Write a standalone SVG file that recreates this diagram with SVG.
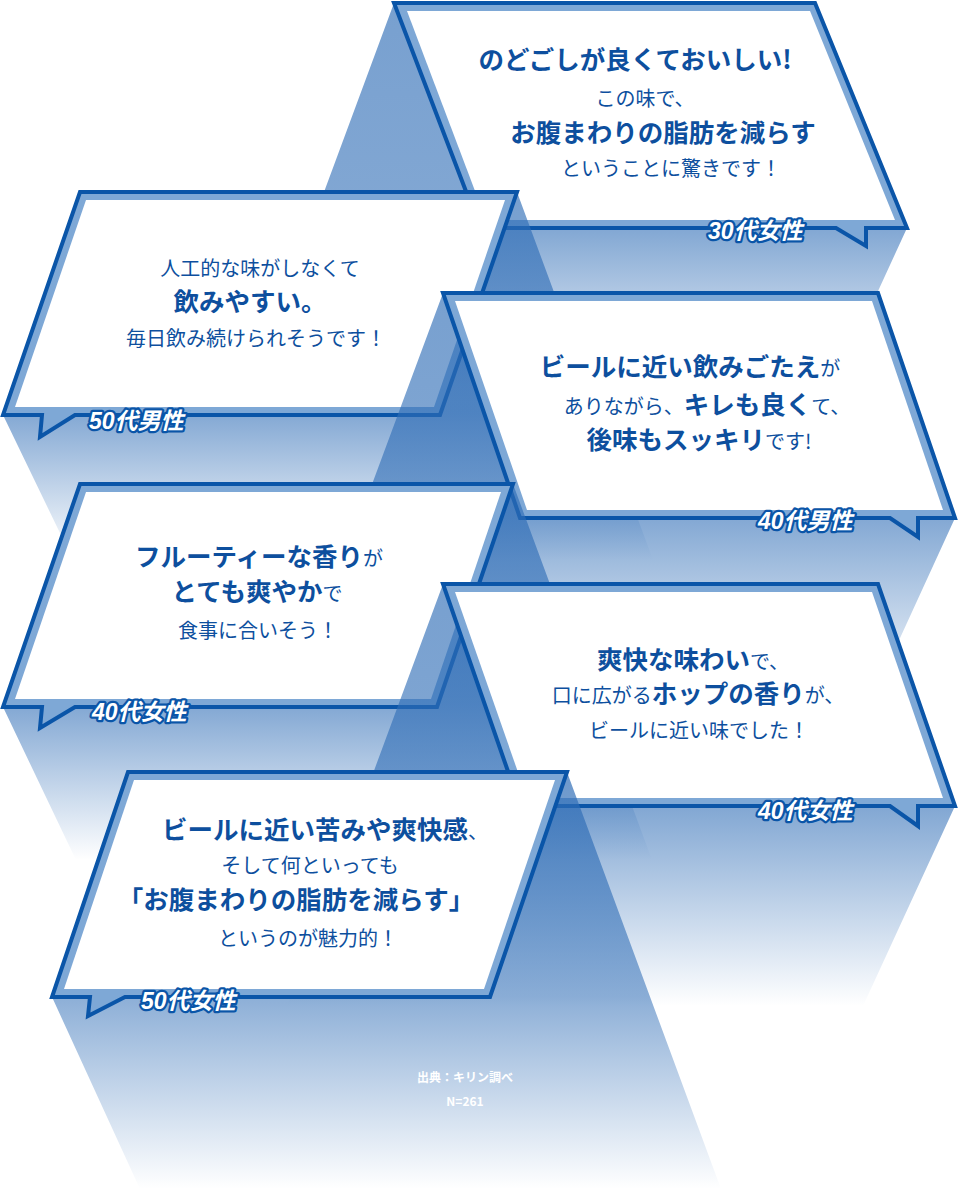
<svg xmlns="http://www.w3.org/2000/svg" width="960" height="1189" viewBox="0 0 960 1189">
<style>
.o{fill:#7ea8d6;stroke:#0a55a8;stroke-width:4;stroke-linejoin:miter}
.i{fill:#fff}
text{font-family:"Noto Sans CJK JP","Noto Sans",sans-serif;fill:#0d4f9e;text-anchor:middle}
.n{font-size:20px;font-weight:400}
.b{font-size:25.5px;font-weight:700}
.bs{font-weight:700;font-size:25.5px}
.ag{font-family:"Liberation Sans","Noto Sans CJK JP",sans-serif;font-size:23px;font-weight:700;font-style:italic;fill:#fff;stroke:#0a55a8;stroke-width:4.5;paint-order:stroke;stroke-linejoin:round;text-anchor:start}
.src{font-family:"Noto Sans CJK JP","Liberation Sans",sans-serif;font-size:12px;font-weight:700;fill:#fff}
</style>
<defs>
<linearGradient id="g1" gradientUnits="userSpaceOnUse" x1="0" y1="3" x2="0" y2="400"><stop offset="0" stop-color="#2f6db6" stop-opacity=".65"/><stop offset=".57" stop-color="#2f6db6" stop-opacity=".6"/><stop offset="1" stop-color="#2f6db6" stop-opacity="0"/></linearGradient>
<linearGradient id="g2" gradientUnits="userSpaceOnUse" x1="0" y1="192" x2="0" y2="560"><stop offset="0" stop-color="#2f6db6" stop-opacity=".65"/><stop offset=".6" stop-color="#2f6db6" stop-opacity=".6"/><stop offset="1" stop-color="#2f6db6" stop-opacity="0"/></linearGradient>
<linearGradient id="g3" gradientUnits="userSpaceOnUse" x1="0" y1="293" x2="0" y2="708"><stop offset="0" stop-color="#2f6db6" stop-opacity=".65"/><stop offset=".54" stop-color="#2f6db6" stop-opacity=".6"/><stop offset="1" stop-color="#2f6db6" stop-opacity="0"/></linearGradient>
<linearGradient id="g4" gradientUnits="userSpaceOnUse" x1="0" y1="484" x2="0" y2="860"><stop offset="0" stop-color="#2f6db6" stop-opacity=".65"/><stop offset=".59" stop-color="#2f6db6" stop-opacity=".6"/><stop offset="1" stop-color="#2f6db6" stop-opacity="0"/></linearGradient>
<linearGradient id="g5" gradientUnits="userSpaceOnUse" x1="0" y1="584" x2="0" y2="1006"><stop offset="0" stop-color="#2f6db6" stop-opacity=".65"/><stop offset=".53" stop-color="#2f6db6" stop-opacity=".6"/><stop offset="1" stop-color="#2f6db6" stop-opacity="0"/></linearGradient>
<linearGradient id="g6" gradientUnits="userSpaceOnUse" x1="0" y1="772" x2="0" y2="1189"><stop offset="0" stop-color="#2f6db6" stop-opacity=".7"/><stop offset=".54" stop-color="#2f6db6" stop-opacity=".55"/><stop offset="1" stop-color="#2f6db6" stop-opacity="0"/></linearGradient>
</defs>
<rect width="960" height="1189" fill="#fff"/>

<polygon fill="url(#g1)" points="394,3 480,228 907,228 828,400 247,400"/>
<g id="b1">
<polygon class="o" points="394,3 815,3 907,228 866,228 866,246 836,228 480,228"/>
<polygon class="i" points="407,11 810,11 895,220 486,220"/>
<text class="b" x="635" y="69">のどごしが良くておいしい!</text>
<text class="n" x="645" y="106">この味で、</text>
<text class="b" x="663" y="142">お腹まわりの脂肪を減らす</text>
<text class="n" x="671" y="176">ということに驚きです！</text>
<text class="ag" x="708" y="239">30代女性</text>
</g>

<polygon fill="url(#g2)" points="517,192 653,560 73,560 3,415 440,415"/>
<g id="b2">
<polygon class="o" points="80,192 517,192 440,415 75,415 40,437 42,415 3,415"/>
<polygon class="i" points="86,200 505,200 434,407 15,407"/>
<text class="n" x="260" y="276">人工的な味がしなくて</text>
<text class="b" x="250" y="311">飲みやすい。</text>
<text class="n" x="256" y="346">毎日飲み続けられそうです！</text>
<text class="ag" x="89" y="429">50代男性</text>
</g>

<polygon fill="url(#g3)" points="443,293 520,518 955,518 868,708 289,708"/>
<g id="b3">
<polygon class="o" points="443,293 878,293 955,518 918,518 918,537 890,518 520,518"/>
<polygon class="i" points="455,301 872,301 943,510 527,510"/>
<text x="690" y="376"><tspan class="bs">ビールに近い飲みごたえ</tspan><tspan class="n">が</tspan></text>
<text x="707" y="414"><tspan class="n">ありながら、</tspan><tspan class="bs">キレも良く</tspan><tspan class="n">て、</tspan></text>
<text x="699" y="449"><tspan class="bs">後味もスッキリ</tspan><tspan class="n">です!</tspan></text>
<text class="ag" x="758" y="529">40代男性</text>
</g>

<polygon fill="url(#g4)" points="513,484 652,860 76,860 3,707 437,707"/>
<g id="b4">
<polygon class="o" points="80,484 513,484 437,707 75,707 40,728 42,707 3,707"/>
<polygon class="i" points="86,492 501,492 431,699 15,699"/>
<text x="259" y="566"><tspan class="bs">フルーティーな香り</tspan><tspan class="n">が</tspan></text>
<text x="257" y="601"><tspan class="bs">とても爽やか</tspan><tspan class="n">で</tspan></text>
<text class="n" x="258" y="638">食事に合いそう！</text>
<text class="ag" x="92" y="720">40代女性</text>
</g>

<polygon fill="url(#g5)" points="443,584 520,806 955,806 863,1006 287,1006"/>
<g id="b5">
<polygon class="o" points="443,584 878,584 955,806 918,806 918,826 890,806 520,806"/>
<polygon class="i" points="455,592 872,592 943,798 527,798"/>
<text x="693" y="669"><tspan class="bs">爽快な味わい</tspan><tspan class="n">で、</tspan></text>
<text x="698" y="703"><tspan class="n">口に広がる</tspan><tspan class="bs">ホップの香り</tspan><tspan class="n">が、</tspan></text>
<text class="n" x="699" y="738">ビールに近い味でした！</text>
<text class="ag" x="758" y="819">40代女性</text>
</g>

<polygon fill="url(#g6)" points="567,772 721,1189 140,1189 52,997 490,997"/>
<g id="b6">
<polygon class="o" points="128,772 567,772 490,997 125,997 88,1016 90,997 52,997"/>
<polygon class="i" points="134,780 555,780 484,989 64,989"/>
<text x="325" y="839"><tspan class="bs">ビールに近い苦みや爽快感</tspan><tspan class="n">、</tspan></text>
<text class="n" x="310" y="873">そして何といっても</text>
<text class="b" x="296" y="909">「お腹まわりの脂肪を減らす」</text>
<text class="n" x="308" y="946">というのが魅力的！</text>
<text class="ag" x="141" y="1009">50代女性</text>
</g>

<text class="src" x="465" y="1082">出典：キリン調べ</text>
<text class="src" x="465" y="1106">N=261</text>
</svg>
